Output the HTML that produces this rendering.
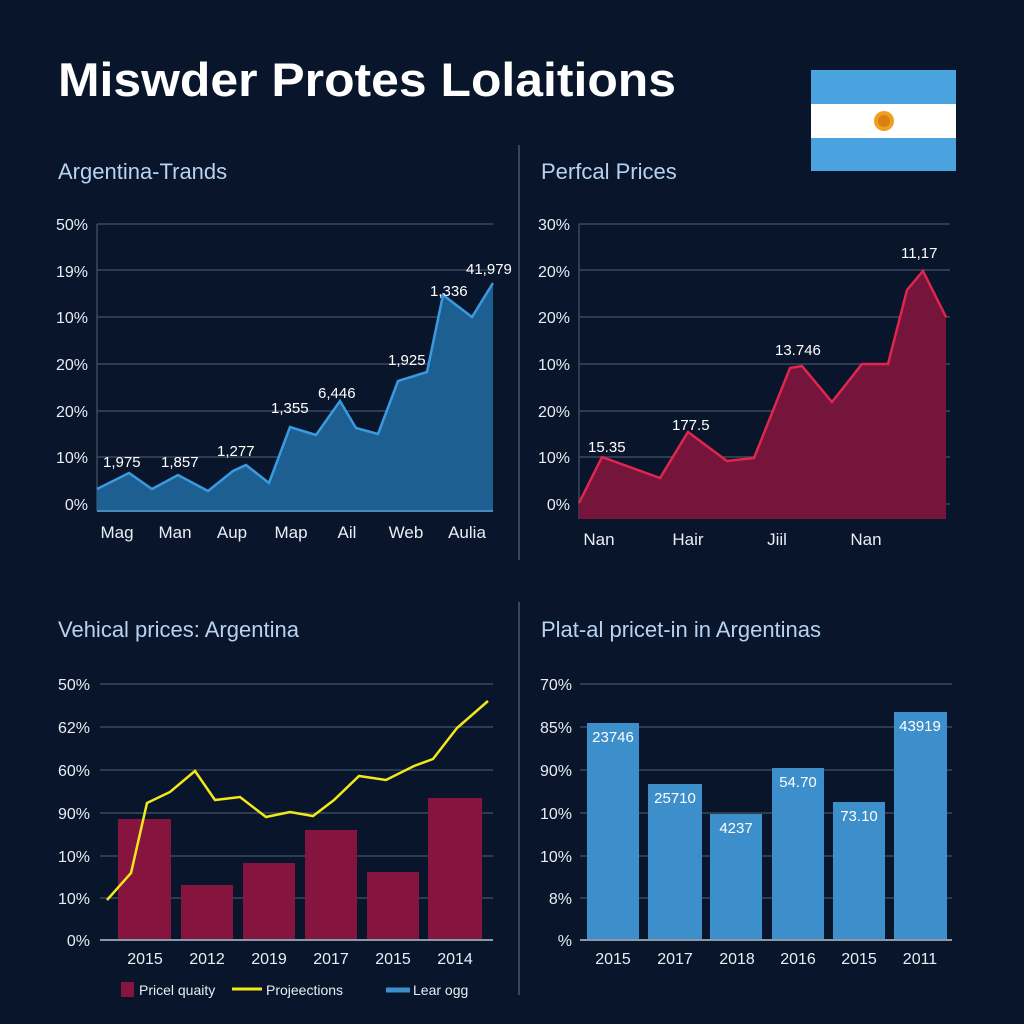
<!DOCTYPE html>
<html><head><meta charset="utf-8"><style>
html,body{margin:0;padding:0;background:#08152a;}
svg{display:block;font-family:"Liberation Sans",sans-serif;}
</style></head><body>
<svg width="1024" height="1024" viewBox="0 0 1024 1024" xmlns="http://www.w3.org/2000/svg">
<rect width="1024" height="1024" fill="#08152a"/>
<text x="58" y="96" font-size="47" font-weight="bold" fill="#ffffff" textLength="618" lengthAdjust="spacingAndGlyphs">Miswder Protes Lolaitions</text>
<!-- flag -->
<rect x="811" y="70" width="145" height="101" fill="#4aa3df"/>
<rect x="811" y="104" width="145" height="34" fill="#ffffff"/>
<circle cx="884" cy="121" r="10" fill="#f0a020"/>
<circle cx="884" cy="121" r="6" fill="#d88010"/>
<!-- dividers -->
<line x1="519" y1="145" x2="519" y2="560" stroke="#3a4658" stroke-width="2"/>
<line x1="519" y1="602" x2="519" y2="995" stroke="#3a4658" stroke-width="2"/>
<!-- titles -->
<g font-size="22" fill="#b8d2f0">
<text x="58" y="179">Argentina-Trands</text>
<text x="541" y="179">Perfcal Prices</text>
<text x="58" y="637">Vehical prices: Argentina</text>
<text x="541" y="637">Plat-al pricet-in in Argentinas</text>
</g>
<!-- panel 1 -->
<g stroke="#3a4a5e" stroke-width="1.5">
<line x1="97" y1="224" x2="493" y2="224"/><line x1="97" y1="270" x2="493" y2="270"/><line x1="97" y1="317" x2="493" y2="317"/><line x1="97" y1="364" x2="493" y2="364"/><line x1="97" y1="411" x2="493" y2="411"/><line x1="97" y1="457" x2="493" y2="457"/><line x1="97" y1="504" x2="493" y2="504"/>
<line x1="97" y1="224" x2="97" y2="511"/>
</g>
<g font-size="16" fill="#e8eef6" text-anchor="end">
<text x="88" y="230">50%</text><text x="88" y="277">19%</text><text x="88" y="323">10%</text><text x="88" y="370">20%</text><text x="88" y="417">20%</text><text x="88" y="463">10%</text><text x="88" y="510">0%</text>
</g>
<polygon points="97,489 129,473 152,489 178,475 208,491 233,471 246,465 269,483 290,427 316,435 340,401 356,428 378,434 398,381 427,372 443,295 472,317 493,283 493,511 97,511" fill="#1d5f90"/>
<polyline points="97,489 129,473 152,489 178,475 208,491 233,471 246,465 269,483 290,427 316,435 340,401 356,428 378,434 398,381 427,372 443,295 472,317 493,283" fill="none" stroke="#3a9ae0" stroke-width="2.5"/>
<line x1="97" y1="511" x2="493" y2="511" stroke="#4a88c0" stroke-width="2"/>
<g font-size="15" fill="#ffffff">
<text x="103" y="467">1,975</text><text x="161" y="467">1,857</text><text x="217" y="456">1,277</text><text x="271" y="413">1,355</text><text x="318" y="398">6,446</text><text x="388" y="365">1,925</text><text x="430" y="296">1,336</text><text x="466" y="274">41,979</text>
</g>
<g font-size="17" fill="#e8eef6" text-anchor="middle">
<text x="117" y="538">Mag</text><text x="175" y="538">Man</text><text x="232" y="538">Aup</text><text x="291" y="538">Map</text><text x="347" y="538">Ail</text><text x="406" y="538">Web</text><text x="467" y="538">Aulia</text>
</g>
<!-- panel 2 -->
<g stroke="#3a4a5e" stroke-width="1.5">
<line x1="579" y1="224" x2="950" y2="224"/><line x1="579" y1="270" x2="950" y2="270"/><line x1="579" y1="317" x2="950" y2="317"/><line x1="579" y1="364" x2="950" y2="364"/><line x1="579" y1="411" x2="950" y2="411"/><line x1="579" y1="457" x2="950" y2="457"/><line x1="579" y1="504" x2="950" y2="504"/>
<line x1="579" y1="224" x2="579" y2="519"/>
</g>
<g font-size="16" fill="#e8eef6" text-anchor="end">
<text x="570" y="230">30%</text><text x="570" y="277">20%</text><text x="570" y="323">20%</text><text x="570" y="370">10%</text><text x="570" y="417">20%</text><text x="570" y="463">10%</text><text x="570" y="510">0%</text>
</g>
<polygon points="579,503 602,457 660,478 688,432 727,461 754,458 790,368 802,366 832,402 862,364 888,364 907,290 923,271 946,317 946,519 579,519" fill="#76153c"/>
<polyline points="579,503 602,457 660,478 688,432 727,461 754,458 790,368 802,366 832,402 862,364 888,364 907,290 923,271 946,317" fill="none" stroke="#e0264e" stroke-width="2.5"/>
<g font-size="15" fill="#ffffff">
<text x="588" y="452">15.35</text><text x="672" y="430">177.5</text><text x="775" y="355">13.746</text><text x="901" y="258">11,17</text>
</g>
<g font-size="17" fill="#e8eef6" text-anchor="middle">
<text x="599" y="545">Nan</text><text x="688" y="545">Hair</text><text x="777" y="545">Jiil</text><text x="866" y="545">Nan</text>
</g>
<!-- panel 3 -->
<g stroke="#3a4a5e" stroke-width="1.5">
<line x1="100" y1="684" x2="493" y2="684"/><line x1="100" y1="727" x2="493" y2="727"/><line x1="100" y1="770" x2="493" y2="770"/><line x1="100" y1="813" x2="493" y2="813"/><line x1="100" y1="856" x2="493" y2="856"/><line x1="100" y1="898" x2="493" y2="898"/>
</g>
<g font-size="16" fill="#e8eef6" text-anchor="end">
<text x="90" y="690">50%</text><text x="90" y="733">62%</text><text x="90" y="776">60%</text><text x="90" y="819">90%</text><text x="90" y="862">10%</text><text x="90" y="904">10%</text><text x="90" y="946">0%</text>
</g>
<g fill="#85143e">
<rect x="118" y="819" width="53" height="121"/><rect x="181" y="885" width="52" height="55"/><rect x="243" y="863" width="52" height="77"/><rect x="305" y="830" width="52" height="110"/><rect x="367" y="872" width="52" height="68"/><rect x="428" y="798" width="54" height="142"/>
</g>
<line x1="100" y1="940" x2="493" y2="940" stroke="#8a98a8" stroke-width="2"/>
<polyline points="107,900 131,873 147,803 170,792 195,771 215,800 240,797 266,817 290,812 313,816 334,800 359,776 386,780 414,766 433,759 457,728 488,701" fill="none" stroke="#f2e81a" stroke-width="2.5"/>
<g font-size="16" fill="#e8eef6" text-anchor="middle">
<text x="145" y="964">2015</text><text x="207" y="964">2012</text><text x="269" y="964">2019</text><text x="331" y="964">2017</text><text x="393" y="964">2015</text><text x="455" y="964">2014</text>
</g>
<rect x="121" y="982" width="13" height="15" fill="#85143e"/>
<text x="139" y="995" font-size="14" fill="#e8eef6">Pricel quaity</text>
<line x1="232" y1="989" x2="262" y2="989" stroke="#f2e81a" stroke-width="3"/>
<text x="266" y="995" font-size="14" fill="#e8eef6">Projeections</text>
<line x1="386" y1="990" x2="410" y2="990" stroke="#3d8fcb" stroke-width="5"/>
<text x="413" y="995" font-size="14" fill="#e8eef6">Lear ogg</text>
<!-- panel 4 -->
<g stroke="#3a4a5e" stroke-width="1.5">
<line x1="580" y1="684" x2="952" y2="684"/><line x1="580" y1="727" x2="952" y2="727"/><line x1="580" y1="770" x2="952" y2="770"/><line x1="580" y1="813" x2="952" y2="813"/><line x1="580" y1="856" x2="952" y2="856"/><line x1="580" y1="898" x2="952" y2="898"/>
</g>
<g font-size="16" fill="#e8eef6" text-anchor="end">
<text x="572" y="690">70%</text><text x="572" y="733">85%</text><text x="572" y="776">90%</text><text x="572" y="819">10%</text><text x="572" y="862">10%</text><text x="572" y="904">8%</text><text x="572" y="946">%</text>
</g>
<g fill="#3d8fcb">
<rect x="587" y="723" width="52" height="217"/><rect x="648" y="784" width="54" height="156"/><rect x="710" y="814" width="52" height="126"/><rect x="772" y="768" width="52" height="172"/><rect x="833" y="802" width="52" height="138"/><rect x="894" y="712" width="53" height="228"/>
</g>
<line x1="580" y1="940" x2="952" y2="940" stroke="#8a98a8" stroke-width="2"/>
<g font-size="15" fill="#ffffff" text-anchor="middle">
<text x="613" y="742">23746</text><text x="675" y="803">25710</text><text x="736" y="833">4237</text><text x="798" y="787">54.70</text><text x="859" y="821">73.10</text><text x="920" y="731">43919</text>
</g>
<g font-size="16" fill="#e8eef6" text-anchor="middle">
<text x="613" y="964">2015</text><text x="675" y="964">2017</text><text x="737" y="964">2018</text><text x="798" y="964">2016</text><text x="859" y="964">2015</text><text x="920" y="964">2011</text>
</g>
</svg>
</body></html>
